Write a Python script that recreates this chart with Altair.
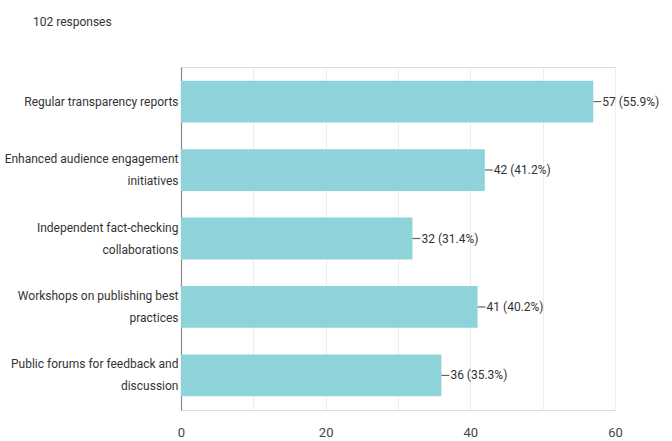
import altair as alt
import pandas as pd

categories = [
    "Regular transparency reports",
    "Enhanced audience engagement\ninitiatives",
    "Independent fact-checking\ncollaborations",
    "Workshops on publishing best\npractices",
    "Public forums for feedback and\ndiscussion",
]
counts = [57, 42, 32, 41, 36]
percents = ["55.9%", "41.2%", "31.4%", "40.2%", "35.3%"]
x_ticks = [0, 10, 20, 30, 40, 50, 60]

df = pd.DataFrame({
    "cat": categories,
    "count": counts,
    "label": [f"{c} ({p})" for c, p in zip(counts, percents)],
})

FONT = "Roboto, Liberation Sans, sans-serif"
TXT = "#333333"
FS = 12

y_enc = alt.Y(
    "cat:N", sort=categories, title=None,
    scale=alt.Scale(paddingInner=0.39, paddingOuter=0.2),
    axis=alt.Axis(
        labelExpr="split(datum.value, '\\n')",
        labelFontSize=FS, labelColor=TXT, labelFont=FONT,
        labelLineHeight=22, labelPadding=3, ticks=False,
        labelOffset={"condition": {"test": "indexof(datum.value, '\\n') >= 0", "value": -11}, "value": 0},
        domainColor="#888888", domainWidth=1.2, labelLimit=300,
    ),
)
x_enc = alt.X(
    "count:Q", title=None,
    scale=alt.Scale(domain=[0, 60], nice=False),
    axis=alt.Axis(
        values=x_ticks,
        labelExpr="datum.value % 20 == 0 ? datum.label : ''",
        labelFontSize=13, labelColor="#444444", labelFont=FONT,
        labelPadding=16, ticks=False, domain=False,
        gridColor="#ececec", labelFlush=False,
    ),
)

bars = alt.Chart(df).mark_bar(color="#8ed3da").encode(x=x_enc, y=y_enc)
lead = alt.Chart(df).mark_rule(color="#666666", x2Offset=8, strokeWidth=1.2).encode(
    x="count:Q", x2="count:Q", y=alt.Y("cat:N", sort=categories)
)
texts = alt.Chart(df).mark_text(
    align="left", dx=9, fontSize=FS, font=FONT, color=TXT
).encode(x="count:Q", y=alt.Y("cat:N", sort=categories), text="label:N")

chart = (
    alt.layer(bars, lead, texts)
    .properties(
        width=434, height=343,
        autosize=alt.AutoSizeParams(type="none"),
        padding={"left": 181, "top": 67, "right": 57, "bottom": 31},
        title=alt.TitleParams(
            "102 responses", anchor="start", frame="group", dx=-148, offset=38,
            fontSize=FS, font=FONT, color=TXT, fontWeight="normal",
        ),
    )
    .configure_view(stroke="#e3e3e3")
    .configure(background="white")
)

chart.save("out.html", embed_options={"renderer": "svg", "actions": False})
